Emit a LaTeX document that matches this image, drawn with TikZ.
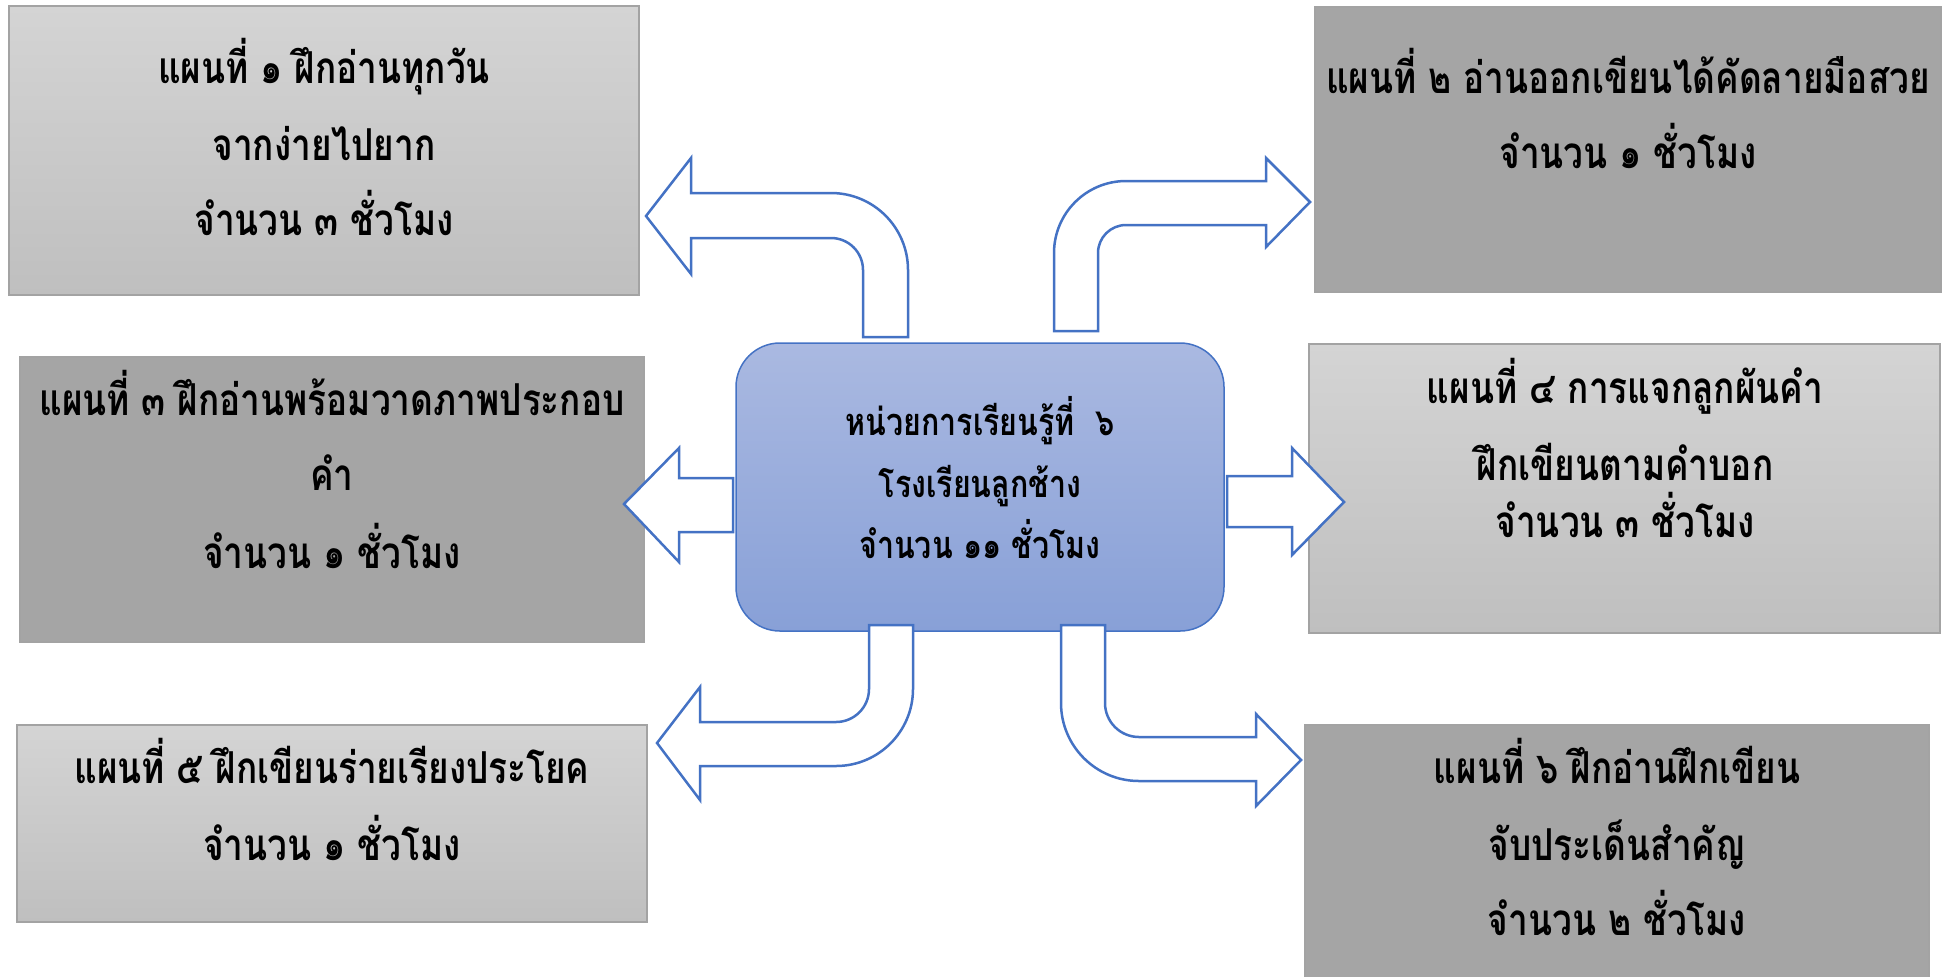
\documentclass[tikz,border=0pt]{standalone}
\usepackage{fontspec}
\newfontfamily\thai[Script=Thai, FakeStretch=0.8]{Loma}
\usetikzlibrary{fit}
\definecolor{arrowblue}{HTML}{4472C4}
\definecolor{ctop}{HTML}{AAB9E1}
\definecolor{cbot}{HTML}{88A0D7}
\definecolor{lighttop}{HTML}{D4D4D4}
\definecolor{lightbot}{HTML}{BFBFBF}
\definecolor{darkfill}{HTML}{A5A5A5}
\definecolor{boxline}{HTML}{A3A3A3}
\begin{document}
\begin{tikzpicture}[x=0.5pt,y=-0.5pt,
  lightbox/.style={draw=boxline, line width=0.75pt, top color=lighttop, bottom color=lightbot, inner sep=0pt},
  darkbox/.style={draw=boxline, line width=0.75pt, fill=darkfill, inner sep=0pt},
  hubbox/.style={draw=arrowblue, line width=0.75pt, top color=ctop, bottom color=cbot, rounded corners=22pt, inner sep=0pt},
  blockarrow/.style={draw=arrowblue, line width=1.25pt, fill=white, line join=miter},
  txt/.style={anchor=base, inner sep=0pt, font=\thai\bfseries\fontsize{22}{26}\selectfont},
  hubtxt/.style={anchor=base, inner sep=0pt, font=\thai\bfseries\fontsize{19}{23}\selectfont}]
\useasboundingbox (0,0) rectangle (1942,976);
% boxes
\node[lightbox, fit={(9,6) (639,295)}] (b1) {};
\node[darkbox, fit={(1315,7) (1941,292)}] (b2) {};
\node[darkbox, fit={(20,357) (644,642)}] (b3) {};
\node[lightbox, fit={(1309,344) (1940,633)}] (b4) {};
\node[lightbox, fit={(17,725) (647,922)}] (b5) {};
\node[darkbox, fit={(1305,725) (1929,990)}] (b6) {};
\node[hubbox, fit={(736,343) (1224,631)}] (hub) {};
% texts
\node[txt] (t11) at (324,83) {แผนที่ ๑ ฝึกอ่านทุกวัน};
\node[txt] (t12) at (324,160) {จากง่ายไปยาก};
\node[txt] (t13) at (324,235) {จำนวน ๓ ชั่วโมง};
\node[txt] (t21) at (1628,93) {แผนที่ ๒ อ่านออกเขียนได้คัดลายมือสวย};
\node[txt] (t22) at (1628,168) {จำนวน ๑ ชั่วโมง};
\node[txt] (t31) at (332,415) {แผนที่ ๓ ฝึกอ่านพร้อมวาดภาพประกอบ};
\node[txt] (t32) at (332,490) {คำ};
\node[txt] (t33) at (332,568) {จำนวน ๑ ชั่วโมง};
\node[txt] (t41) at (1625,403) {แผนที่ ๔ การแจกลูกผันคำ};
\node[txt] (t42) at (1625,480) {ฝึกเขียนตามคำบอก};
\node[txt] (t43) at (1625,537) {จำนวน ๓ ชั่วโมง};
\node[txt] (t51) at (332,783) {แผนที่ ๕ ฝึกเขียนร่ายเรียงประโยค};
\node[txt] (t52) at (332,860) {จำนวน ๑ ชั่วโมง};
\node[txt] (t61) at (1617,783) {แผนที่ ๖ ฝึกอ่านฝึกเขียน};
\node[txt] (t62) at (1617,860) {จับประเด็นสำคัญ};
\node[txt] (t63) at (1617,935) {จำนวน ๒ ชั่วโมง};
\node[hubtxt] (h1) at (980,435) {หน่วยการเรียนรู้ที่\ \ ๖};
\node[hubtxt] (h2) at (980,497) {โรงเรียนลูกช้าง};
\node[hubtxt] (h3) at (980,558) {จำนวน ๑๑ ชั่วโมง};
% block arrows
\draw[blockarrow] (863,337) -- (863,270) arc[start angle=0, end angle=-90, radius=32]
  -- (691,238) -- (691,274) -- (646,216) -- (691,158) -- (691,193) -- (831,193)
  arc[start angle=-90, end angle=0, radius=77] -- (908,337) -- cycle;
\draw[blockarrow] (1054,331) -- (1054,253) arc[start angle=180, end angle=270, radius=72]
  -- (1266,181) -- (1266,158) -- (1310,202) -- (1266,247) -- (1266,225) -- (1126,225)
  arc[start angle=270, end angle=180, radius=28] -- (1098,331) -- cycle;
\draw[blockarrow] (733,478) -- (679,478) -- (679,448) -- (624,504) -- (679,562) -- (679,532) -- (733,532) -- cycle;
\draw[blockarrow] (1227,476) -- (1292,476) -- (1292,448) -- (1344,502) -- (1292,555) -- (1292,527) -- (1227,527) -- cycle;
\draw[blockarrow] (869,625) -- (869,689) arc[start angle=0, end angle=90, radius=33]
  -- (700,722) -- (700,687) -- (657,743) -- (700,800) -- (700,766) -- (836,766)
  arc[start angle=90, end angle=0, radius=77] -- (913,625) -- cycle;
\draw[blockarrow] (1061,625) -- (1061,703) arc[start angle=180, end angle=90, radius=78]
  -- (1256,781) -- (1256,806) -- (1301,760) -- (1256,714) -- (1256,737) -- (1139,737)
  arc[start angle=90, end angle=180, radius=34] -- (1105,625) -- cycle;
\end{tikzpicture}
\end{document}
